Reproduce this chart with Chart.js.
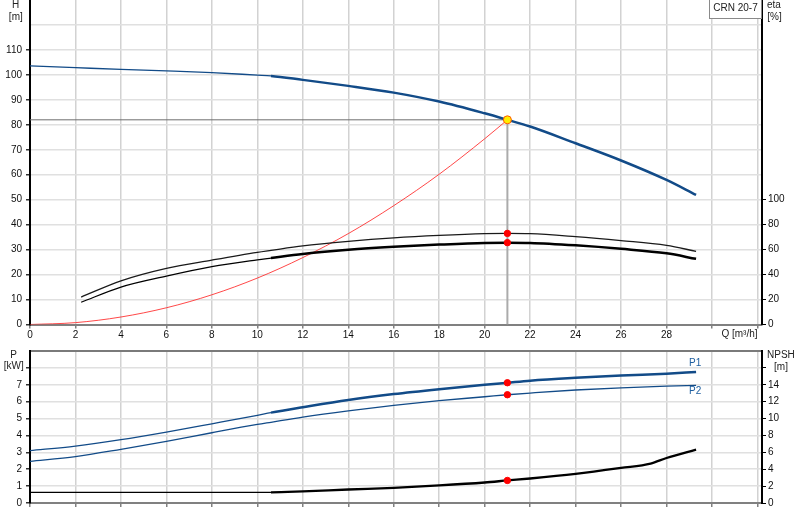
<!DOCTYPE html>
<html>
<head>
<meta charset="utf-8">
<script src="https://cdn.jsdelivr.net/npm/chart.js@4.4.0/dist/chart.umd.min.js"></script>
<style>
body { margin: 0; background: #fff; overflow: hidden; }
canvas { position: absolute; left: 0; }
#top { top: 0; }
#bottom { top: 345px; }
</style>
</head>
<body>
<canvas id="top" width="800" height="345"></canvas>
<canvas id="bottom" width="800" height="175"></canvas>
<script>
// flow values (m3/h) for the pump curves
var qFlow = [0, 2, 4, 6, 8, 10, 10.6, 12, 14, 16, 18, 20, 21, 22, 24, 26, 28, 29.3];
var headH = [103.6, 102.9, 102.2, 101.6, 100.9, 99.9, 99.6, 98.0, 95.6, 92.9, 89.3, 84.6, 82.0, 79.3, 72.6, 65.7, 57.9, 51.9];

var qEta = [2.25, 4, 6, 8, 10, 10.6, 12, 14, 16, 18, 20, 21, 22, 24, 26, 28, 29.3];
var etaPump = [22, 35, 45, 51.6, 57.8, 59.4, 63, 66.6, 69.4, 71.4, 72.8, 73, 72.8, 70.4, 67.2, 63.4, 58.6];
var etaTotal = [17.8, 30, 38.8, 46.4, 51.8, 53.2, 56.4, 59.8, 62.2, 64, 65.4, 65.6, 65.4, 63.4, 60.6, 57, 52.6];

// system curve
var qSys = [0, 2, 4, 6, 8, 10, 12, 14, 16, 18, 20, 21];
var hSys = [0, 0.75, 3.0, 6.7, 11.9, 18.6, 26.8, 36.4, 47.6, 60.2, 74.4, 82];

// power and npsh
var p1 = [3.10, 3.37, 3.75, 4.20, 4.69, 5.19, 5.35, 5.67, 6.10, 6.45, 6.74, 7.00, 7.12, 7.24, 7.41, 7.55, 7.66, 7.76];
var p2 = [2.47, 2.75, 3.18, 3.65, 4.16, 4.65, 4.78, 5.08, 5.45, 5.78, 6.06, 6.29, 6.41, 6.51, 6.69, 6.82, 6.92, 6.97];
var qNpsh = [0, 10.6, 12, 14, 16, 18, 20, 21, 22, 24, 26, 27.3, 28, 29.3];
var npsh = [1.26, 1.26, 1.37, 1.60, 1.80, 2.08, 2.43, 2.67, 2.90, 3.45, 4.16, 4.67, 5.33, 6.31];

// duty point
var dutyQ = 21;
var dutyH = 82;
var dutyEta = [73, 65.6];
var dutyP = [7.12, 6.41];
var dutyNpsh = 2.67;

// thick part of the curves starts here
var rangeStart = 10.6;

var qTicks = [0, 2, 4, 6, 8, 10, 12, 14, 16, 18, 20, 22, 24, 26, 28, 30, 32];
var hTicks = [0, 10, 20, 30, 40, 50, 60, 70, 80, 90, 100, 110, 120, 130];
var etaTicks = [0, 20, 40, 60, 80, 100];
var pTicks = [0, 1, 2, 3, 4, 5, 6, 7, 8, 9];
var npshTicks = [0, 2, 4, 6, 8, 10, 12, 14, 16];

var BLUE = '#124b88';
var FONT = '"Liberation Sans", Arial, sans-serif';

Chart.defaults.font.family = FONT;
Chart.defaults.font.size = 10;
Chart.defaults.color = '#111';

function pts(xs, ys) {
	var out = [];
	for (var i = 0; i < xs.length; i++) out.push({x: xs[i], y: ys[i]});
	return out;
}
// fixed axis sizes so the plot area sits where the original has it
function fixWidth(w) { return function(s) { s.width = w; s.paddingTop = 0; s.paddingBottom = 0; }; }
function fixHeight(h) { return function(s) { s.height = h; s.paddingLeft = 0; s.paddingRight = 0; }; }
function setTicks(vals) { return function(s) { s.ticks = vals.map(function(v) { return {value: v}; }); }; }
function thick(wThin, wThick) {
	return { borderWidth: function(ctx) { return ctx.p0.parsed.x >= rangeStart - 1e-6 ? wThick : wThin; } };
}
function curve(data, color, axis, seg, width) {
	return {
		data: data, yAxisID: axis, borderColor: color, borderWidth: width || 1.3,
		pointRadius: 0, cubicInterpolationMode: 'monotone', fill: false, segment: seg
	};
}
function dot(data, axis, fillCol, lineCol, r) {
	return {
		data: data, yAxisID: axis, showLine: false, pointRadius: r,
		pointBackgroundColor: fillCol, pointBorderColor: lineCol, pointBorderWidth: 1
	};
}

// text labels drawn on the canvas
var textPlugin = {
	id: 'texts',
	afterDraw: function(chart, args, opts) {
		var c = chart.ctx;
		c.save();
		c.font = '10px ' + FONT;
		c.textBaseline = 'middle';
		if (opts.box) {
			var b = opts.box;
			c.fillStyle = '#fff';
			c.fillRect(b.x, b.y, b.w, b.h);
			c.strokeStyle = '#8a8a8a';
			c.lineWidth = 1;
			c.strokeRect(b.x + 0.5, b.y - 1, b.w - 1, b.h + 0.5);
			c.fillStyle = '#222';
			c.textAlign = 'center';
			c.fillText(b.text, b.x + b.w / 2, b.y + b.h / 2 - 1);
		}
		(opts.items || []).forEach(function(t) {
			c.fillStyle = t.color || '#222';
			c.textAlign = t.align || 'center';
			c.fillText(t.text, t.x, t.y);
		});
		if (opts.curveLabels) {
			var xs = chart.scales.x, ys = chart.scales.yP;
			var last = qFlow.length - 1;
			var ex = xs.getPixelForValue(qFlow[last]) - 1;
			c.fillStyle = '#1f5fa0';
			c.textAlign = 'center';
			c.fillText('P1', ex, ys.getPixelForValue(p1[last]) - 9);
			c.fillText('P2', ex, ys.getPixelForValue(p2[last]) + 6);
		}
		c.restore();
	}
};

var xGrid = { color: '#d2d2d2', lineWidth: 1.5, tickLength: 4, tickColor: '#808080' };

// ---------- top chart: head and efficiency ----------
var topChart = new Chart(document.getElementById('top'), {
	type: 'line',
	data: {
		datasets: [
			dot([{x: dutyQ, y: dutyH}], 'y', '#ffee00', '#ff5a00', 4),
			dot([{x: dutyQ, y: dutyEta[0]}, {x: dutyQ, y: dutyEta[1]}], 'yEta', '#ff0000', '#ff0000', 3.2),
			curve(pts(qFlow, headH), BLUE, 'y', thick(1.3, 2.5)),
			curve(pts(qEta, etaPump), '#1a1a1a', 'yEta', undefined, 1.3),
			curve(pts(qEta, etaTotal), '#000', 'yEta', thick(1.2, 2.5)),
			curve(pts(qSys, hSys), 'rgba(255,40,40,0.85)', 'y', undefined, 1),
			{ data: [{x: 0, y: dutyH}, {x: dutyQ, y: dutyH}], yAxisID: 'y', borderColor: '#6e6e6e', borderWidth: 1, pointRadius: 0 },
			{ data: [{x: dutyQ, y: dutyH}, {x: dutyQ, y: 0}], yAxisID: 'y', borderColor: '#ababab', borderWidth: 2, pointRadius: 0 }
		]
	},
	options: {
		responsive: false,
		animation: false,
		layout: { padding: 0, autoPadding: false },
		plugins: {
			legend: { display: false },
			tooltip: { enabled: false },
			texts: {
				box: { x: 709, y: 0, w: 53, h: 19, text: 'CRN 20-7' },
				items: [
					{ text: 'H', x: 15.5, y: 5.5 },
					{ text: '[m]', x: 15.8, y: 17.5 },
					{ text: 'eta', x: 767, y: 5.5, align: 'left' },
					{ text: '[%]', x: 774.5, y: 17.5 },
					{ text: 'Q [m\u00b3/h]', x: 739.5, y: 334 }
				]
			}
		},
		scales: {
			x: {
				type: 'linear', min: 0, max: 32.2,
				afterBuildTicks: setTicks(qTicks), afterFit: fixHeight(20.5),
				grid: xGrid,
				border: { color: '#808080', width: 2 },
				ticks: { padding: 1, maxRotation: 0, autoSkip: false,
					callback: function(v) { return v >= 30 ? '' : String(v); } }
			},
			y: {
				position: 'left', min: 0, max: 130,
				afterBuildTicks: setTicks(hTicks), afterFit: fixWidth(30),
				grid: {
					color: function(ctx) { return ctx.tick && ctx.tick.value >= 130 ? 'rgba(0,0,0,0)' : '#e0e0e0'; },
					lineWidth: 1.5, tickLength: 4,
					tickColor: function(ctx) { return ctx.tick && ctx.tick.value >= 120 ? 'rgba(0,0,0,0)' : '#333'; }
				},
				border: { color: '#000', width: 2 },
				ticks: { padding: 4, callback: function(v) { return v >= 120 ? '' : String(v); } }
			},
			yEta: {
				position: 'right', min: 0, max: 260,
				afterBuildTicks: setTicks(etaTicks), afterFit: fixWidth(38),
				grid: { drawOnChartArea: false, tickLength: 4, tickColor: '#000' },
				border: { color: '#000', width: 2 },
				ticks: { padding: 2 }
			}
		}
	},
	plugins: [textPlugin]
});

// ---------- bottom chart: power and NPSH ----------
var bottomChart = new Chart(document.getElementById('bottom'), {
	type: 'line',
	data: {
		datasets: [
			dot([{x: dutyQ, y: dutyP[0]}, {x: dutyQ, y: dutyP[1]}], 'yP', '#ff0000', '#ff0000', 3.2),
			dot([{x: dutyQ, y: dutyNpsh}], 'yN', '#ff0000', '#ff0000', 3.2),
			curve(pts(qFlow, p1), BLUE, 'yP', thick(1.3, 2.5)),
			curve(pts(qFlow, p2), BLUE, 'yP', undefined, 1.3),
			curve(pts(qNpsh, npsh), '#000', 'yN', thick(1.2, 2.3))
		]
	},
	options: {
		responsive: false,
		animation: false,
		layout: { padding: { top: 6, left: 0, right: 0, bottom: 0 }, autoPadding: false },
		plugins: {
			legend: { display: false },
			tooltip: { enabled: false },
			texts: {
				curveLabels: true,
				items: [
					{ text: 'P', x: 13.5, y: 10 },
					{ text: '[kW]', x: 13.7, y: 21 },
					{ text: 'NPSH', x: 767, y: 10, align: 'left' },
					{ text: '[m]', x: 781, y: 22 }
				]
			}
		},
		scales: {
			x: {
				type: 'linear', min: 0, max: 32.2,
				afterBuildTicks: setTicks(qTicks), afterFit: fixHeight(17),
				grid: xGrid,
				border: { color: '#808080', width: 2 },
				ticks: { padding: 1, maxRotation: 0, autoSkip: false, callback: function() { return ''; } }
			},
			yP: {
				position: 'left', min: 0, max: 9,
				afterBuildTicks: setTicks(pTicks), afterFit: fixWidth(30),
				grid: {
					color: function(ctx) { return ctx.tick && ctx.tick.value >= 9 ? '#7a7a7a' : '#e0e0e0'; },
					lineWidth: function(ctx) { return ctx.tick && ctx.tick.value >= 9 ? 2 : 1.5; },
					tickLength: 4,
					tickColor: function(ctx) { return ctx.tick && ctx.tick.value >= 9 ? 'rgba(0,0,0,0)' : '#333'; }
				},
				border: { color: '#000', width: 2 },
				ticks: { padding: 4, callback: function(v) { return v >= 8 ? '' : String(v); } }
			},
			yN: {
				position: 'right', min: 0, max: 18,
				afterBuildTicks: setTicks(npshTicks), afterFit: fixWidth(38),
				grid: { drawOnChartArea: false, tickLength: 4, tickColor: '#000' },
				border: { color: '#000', width: 2 },
				ticks: { padding: 2, callback: function(v) { return v >= 16 ? '' : String(v); } }
			}
		}
	},
	plugins: [textPlugin]
});
</script>
</body>
</html>
